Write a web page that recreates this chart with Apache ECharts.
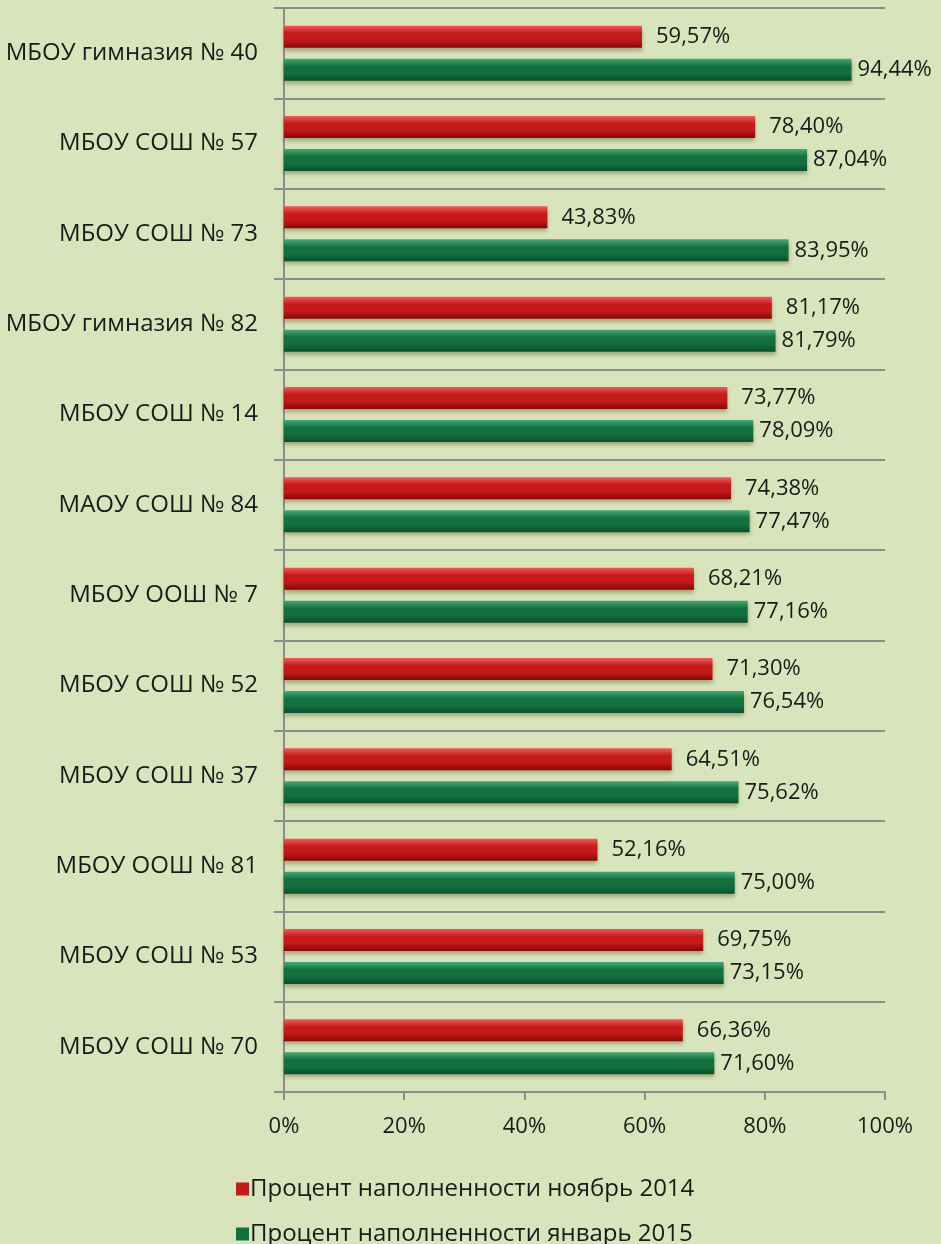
<!DOCTYPE html>
<html><head><meta charset="utf-8">
<script src="https://cdn.jsdelivr.net/npm/echarts@6/dist/echarts.min.js"></script>
<style>html,body{margin:0;padding:0;background:#d8e4bc;}#c{width:941px;height:1244px;}</style>
</head><body><div id="c"></div>
<script>
const categories = ["МБОУ гимназия № 40","МБОУ СОШ № 57","МБОУ СОШ № 73","МБОУ гимназия № 82","МБОУ СОШ № 14","МАОУ СОШ № 84","МБОУ ООШ № 7","МБОУ СОШ № 52","МБОУ СОШ № 37","МБОУ ООШ № 81","МБОУ СОШ № 53","МБОУ СОШ № 70"];
const nov2014 = [59.57,78.40,43.83,81.17,73.77,74.38,68.21,71.30,64.51,52.16,69.75,66.36];
const jan2015 = [94.44,87.04,83.95,81.79,78.09,77.47,77.16,76.54,75.62,75.00,73.15,71.60];
const seriesNames = ["Процент наполненности ноябрь 2014","Процент наполненности январь 2015"];
const xTicks = [0,20,40,60,80,100];

const FONT = "'Open Sans',sans-serif";
function grad(top, mid, bot){
  return new echarts.graphic.LinearGradient(0,0,0,1,[
    {offset:0,color:top},{offset:0.35,color:mid},{offset:0.65,color:mid},{offset:1,color:bot}]);
}
const redFill = grad('#f25a5a','#c41a1a','#8a0606');
const greenFill = grad('#48a877','#13703f','#0b4f2c');
const fmt = p => p.value.toFixed(2).replace('.', ',') + '%';
const legendText = {fontSize:24,fontFamily:FONT,color:'#1a1a1a',padding:[0,0,0,-4]};

const chart = echarts.init(document.getElementById('c'));
chart.setOption({
  backgroundColor:'#d8e4bc',
  animation:false,
  grid:{left:284,right:56,top:8,bottom:152,containLabel:false},
  xAxis:{type:'value',min:xTicks[0],max:xTicks[xTicks.length-1],interval:20,
    axisLine:{show:true,lineStyle:{color:'#8c8c8c',width:2}},
    axisTick:{show:true,length:8,lineStyle:{color:'#8c8c8c',width:2}},
    splitLine:{show:false},
    axisLabel:{formatter:v=>v+'%',color:'#1a1a1a',fontSize:22,fontFamily:FONT,margin:24}},
  yAxis:{type:'category',data:categories,inverse:true,
    axisLine:{show:true,lineStyle:{color:'#8c8c8c',width:2}},
    axisTick:{show:true,length:10,lineStyle:{color:'#8c8c8c',width:2}},
    splitLine:{show:true,lineStyle:{color:'#8c8c8c',width:2}},
    axisLabel:{color:'#1a1a1a',fontSize:24,fontFamily:FONT,margin:26}},
  legend:[
    {orient:'vertical',left:231,top:1172,itemWidth:13,itemHeight:13,icon:'rect',itemGap:0,
      textStyle:legendText,data:[{name:seriesNames[0],itemStyle:{color:'#c41a1a'}}]},
    {orient:'vertical',left:231,top:1217,itemWidth:13,itemHeight:13,icon:'rect',itemGap:0,
      textStyle:legendText,data:[{name:seriesNames[1],itemStyle:{color:'#13703f'}}]}
  ],
  series:[
    {name:seriesNames[0],type:'bar',data:nov2014,barWidth:22,barGap:'50%',
      itemStyle:{color:redFill,shadowColor:'rgba(60,60,0,0.35)',shadowBlur:4,shadowOffsetY:3},
      label:{show:true,position:'right',distance:14,formatter:fmt,fontSize:22,fontFamily:FONT,color:'#1a1a1a'}},
    {name:seriesNames[1],type:'bar',data:jan2015,barWidth:22,
      itemStyle:{color:greenFill,shadowColor:'rgba(60,60,0,0.35)',shadowBlur:4,shadowOffsetY:3},
      label:{show:true,position:'right',distance:6,formatter:fmt,fontSize:22,fontFamily:FONT,color:'#1a1a1a'}}
  ]
});
</script></body></html>
